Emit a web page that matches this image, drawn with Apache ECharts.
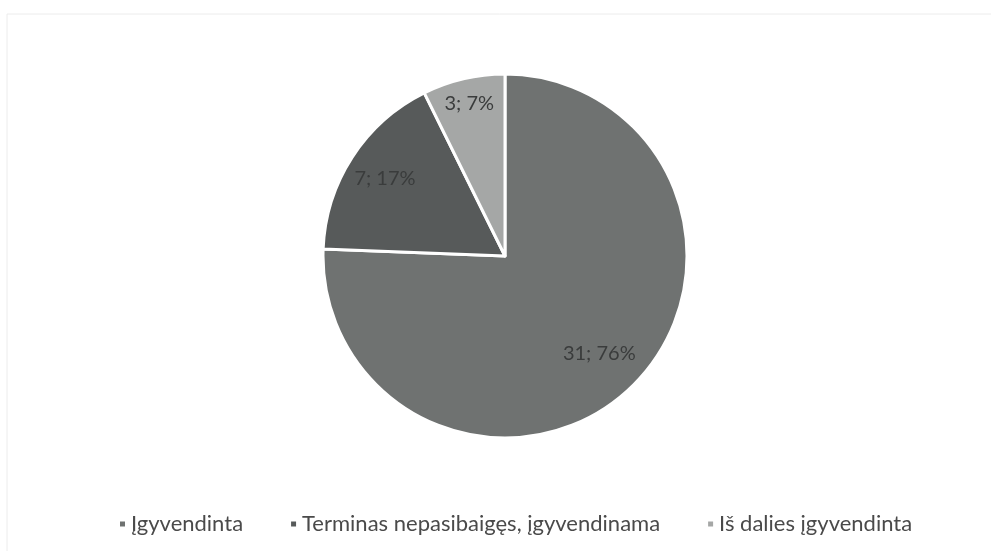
<!DOCTYPE html>
<html>
<head>
<meta charset="utf-8">
<script src="https://cdn.jsdelivr.net/npm/echarts@6/dist/echarts.min.js"></script>
<style>html,body{margin:0;padding:0;background:#fff;}#c{width:991px;height:551px;}</style>
</head>
<body>
<div id="c"></div>
<script>
var categories = ['Įgyvendinta', 'Terminas nepasibaigęs, įgyvendinama', 'Iš dalies įgyvendinta'];
var values = [31, 7, 3];
var colors = ['#6f7271', '#575a5a', '#a5a7a6'];

var chart = echarts.init(document.getElementById('c'));
var total = values.reduce(function (a, b) { return a + b; }, 0);
var data = categories.map(function (n, i) { return { name: n, value: values[i], itemStyle: { color: colors[i] } }; });

// one transparent overlay per slice, so each label can sit at its own depth
var labelInner = [84, 98, 126];
function overlay(k) {
  return {
    type: 'pie',
    center: [505, 256],
    radius: [labelInner[k], 182],
    startAngle: 90,
    clockwise: true,
    silent: true,
    legendHoverLink: false,
    data: categories.map(function (n, i) {
      return { name: n, value: values[i], label: { show: i === k } };
    }),
    itemStyle: { color: 'rgba(0,0,0,0)', borderWidth: 0 },
    label: {
      position: 'inside',
      fontFamily: 'Lato', fontSize: 20, color: '#3a3c3c',
      formatter: function (p) { return p.value + '; ' + Math.round(p.value / total * 100) + '%'; }
    },
    labelLine: { show: false },
    emphasis: { disabled: true }
  };
}

chart.setOption({
  backgroundColor: '#ffffff',
  animation: false,
  graphic: [{
    type: 'rect', silent: true,
    shape: { x: 7, y: 14, width: 1000, height: 600 },
    style: { fill: 'none', stroke: '#ececec', lineWidth: 1 }
  }],
  legend: {
    data: categories,
    left: 113, top: 508,
    icon: 'rect', itemWidth: 7, itemHeight: 7, itemGap: 46,
    textStyle: { fontFamily: 'Lato', fontSize: 22, color: '#4a4a4a' }
  },
  series: [{
    type: 'pie',
    center: [505, 256],
    radius: [0, 182],
    startAngle: 90,
    clockwise: true,
    data: data,
    label: { show: false },
    labelLine: { show: false },
    itemStyle: { borderColor: '#ffffff', borderWidth: 3 },
    emphasis: { disabled: true }
  }, overlay(0), overlay(1), overlay(2)]
});
</script>
</body>
</html>
